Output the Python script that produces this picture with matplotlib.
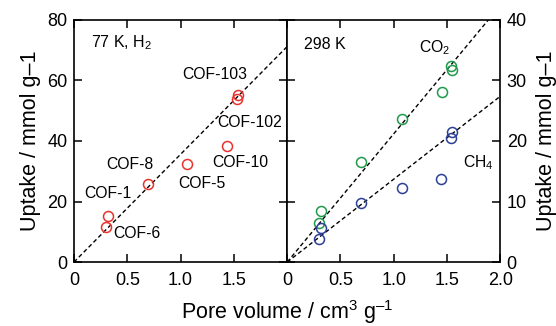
import matplotlib.pyplot as plt

plt.rcParams['font.family'] = ['Liberation Sans', 'DejaVu Sans']
plt.rcParams['mathtext.fontset'] = 'custom'
plt.rcParams['mathtext.rm'] = 'Liberation Sans'
plt.rcParams['mathtext.it'] = 'Liberation Sans'

# 77 K, H2 uptake (left panel)
h2_names = ['COF-1', 'COF-6', 'COF-8', 'COF-5', 'COF-10', 'COF-102', 'COF-103']
h2_pv = [0.32, 0.30, 0.69, 1.065, 1.44, 1.525, 1.54]
h2_up = [15.2, 11.7, 25.7, 32.3, 38.4, 54.0, 55.2]
h2_slope = 35.6

# 298 K, CO2 and CH4 uptake (right panel)
co2_pv = [1.54, 1.546, 1.45, 1.077, 0.695, 0.319, 0.30]
co2_up = [32.4, 31.7, 28.1, 23.6, 16.5, 8.5, 6.5]
ch4_pv = [1.546, 1.537, 1.443, 1.073, 0.69, 0.319, 0.30]
ch4_up = [21.5, 20.5, 13.7, 12.2, 9.7, 5.6, 3.8]
co2_slope = 21.2
ch4_slope = 13.7

red = '#e8322b'
green = '#1f9a4a'
blue = '#2c3f98'

fig = plt.figure(figsize=(5.56, 3.26), dpi=100)
ax1 = fig.add_axes([0.133, 0.196, 0.3835, 0.743])
ax2 = fig.add_axes([0.5165, 0.196, 0.3835, 0.743])

mk = dict(marker='o', ms=7.2, mfc='none', mew=1.1, ls='none')
dash = (0, (3, 2))

# left panel
ax1.plot([0, 2], [0, 2 * h2_slope], ls=dash, color='k', lw=1)
ax1.plot(h2_pv, h2_up, mec=red, **mk)
ax1.set_xlim(0, 2)
ax1.set_ylim(0, 80)
ax1.set_xticks([0, 0.5, 1.0, 1.5, 2.0])
ax1.set_xticklabels(['0', '0.5', '1.0', '1.5', ''])
ax1.set_yticks([0, 20, 40, 60, 80])
ax1.set_ylabel('Uptake / mmol g\u20131', fontsize=15.5, labelpad=5)
ax1.text(0.078, 0.905, '77 K, H$_2$', transform=ax1.transAxes, fontsize=11.5,
         va='center')

# label positions (left edge x, centre y) in data units
lab_x = [0.093, 0.372, 0.307, 0.977, 1.293, 1.34, 1.014]
lab_y = [22.8, 9.6, 32.4, 26.1, 33.0, 46.0, 62.0]
for n, x, y in zip(h2_names, lab_x, lab_y):
    ax1.text(x, y, n, fontsize=11.3, ha='left', va='center')

# right panel
ax2.plot([0, 2], [0, 2 * co2_slope], ls=dash, color='k', lw=1)
ax2.plot([0, 2], [0, 2 * ch4_slope], ls=dash, color='k', lw=1)
ax2.plot(co2_pv, co2_up, mec=green, **mk)
ax2.plot(ch4_pv, ch4_up, mec=blue, **mk)
ax2.set_xlim(0, 2)
ax2.set_ylim(0, 40)
ax2.set_xticks([0, 0.5, 1.0, 1.5, 2.0])
ax2.set_xticklabels(['0', '0.5', '1.0', '1.5', '2.0'])
ax2.set_yticks([0, 10, 20, 30, 40])
ax2.yaxis.set_label_position('right')
ax2.set_ylabel('Uptake / mmol g\u20131', fontsize=15.5, labelpad=7)
ax2.text(0.077, 0.897, '298 K', transform=ax2.transAxes, fontsize=11.5,
         va='center')
ax2.text(1.24, 35.4, 'CO$_2$', fontsize=11.3, va='center')
ax2.text(1.646, 16.4, 'CH$_4$', fontsize=11.3, va='center')

for ax in (ax1, ax2):
    for s in ax.spines.values():
        s.set_linewidth(1.2)
    ax.tick_params(direction='in', length=6, width=1.1, top=True, right=True,
                   labelsize=13)
    ax.tick_params(axis='x', pad=7)
    ax.tick_params(axis='y', pad=4.5)
ax2.tick_params(axis='y', labelleft=False, labelright=True)

fig.text(0.516, 0.02, 'Pore volume / cm$^3$ g$^{\u20131}$', fontsize=15.5,
         ha='center', va='baseline')

fig.savefig('out.png', dpi=100)
